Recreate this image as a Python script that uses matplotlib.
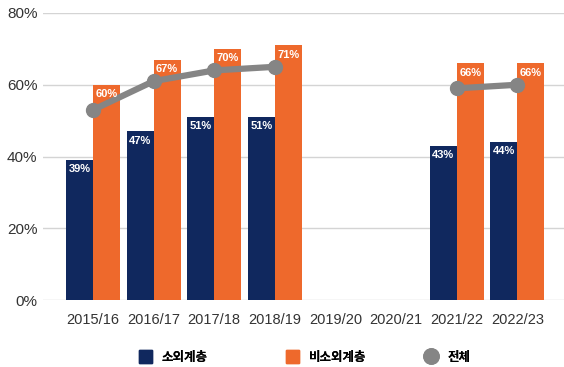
import numpy as np
import matplotlib
matplotlib.use("Agg")
import matplotlib.pyplot as plt
from matplotlib.patches import Patch
from matplotlib.lines import Line2D

plt.rcParams['font.family'] = ['Liberation Sans', 'Noto Sans CJK KR', 'DejaVu Sans']

years = ["2015/16", "2016/17", "2017/18", "2018/19", "2019/20", "2020/21", "2021/22", "2022/23"]
marginal = [39, 47, 51, 51, np.nan, np.nan, 43, 44]        # 소외계층
non_marginal = [60, 67, 70, 71, np.nan, np.nan, 66, 66]    # 비소외계층
overall = [53, 61, 64, 65, np.nan, np.nan, 59, 60]         # 전체

navy = "#10285e"
orange = "#ee692c"
grey = "#858585"

W, H = 564, 367
fig = plt.figure(figsize=(W / 100, H / 100), dpi=100)
ax = fig.add_axes([43 / W, 1 - 300 / H, 1 - 43 / W, (300 - 13) / H])

x = np.arange(len(years))
bw = 0.445

b1 = ax.bar(x - bw / 2, marginal, bw, color=navy, zorder=2)
b2 = ax.bar(x + bw / 2, non_marginal, bw, color=orange, zorder=2)
ax.plot(x, overall, color=grey, lw=4.5, marker="o", ms=10, zorder=3,
        solid_capstyle="round")

for bars, vals in ((b1, marginal), (b2, non_marginal)):
    for rect, v in zip(bars, vals):
        if np.isnan(v):
            continue
        ax.text(rect.get_x() + rect.get_width() / 2, v - 1.2, f"{v:.0f}%",
                ha="center", va="top", color="white", fontsize=8,
                fontweight="bold", zorder=4)

ax.set_xlim(-0.825, 7.77)
ax.set_ylim(0, 80)
ax.set_yticks([0, 20, 40, 60, 80])
ax.set_yticklabels([f"{t}%" for t in [0, 20, 40, 60, 80]])
ax.set_xticks(x)
ax.set_xticklabels(years)
ax.tick_params(axis="both", length=0, colors="#333333")
ax.tick_params(axis="y", pad=4, labelsize=11)
ax.tick_params(axis="x", pad=9, labelsize=10.5)
ax.yaxis.grid(True, color="#d4d4d4", lw=1)
ax.set_axisbelow(True)
for s in ax.spines.values():
    s.set_visible(False)

# legend entries placed one by one
items = [
    (Patch(color=navy), "소외계층", 139),
    (Patch(color=orange), "비소외계층", 286),
    (Line2D([], [], color=grey, marker="o", ls="none", ms=11), "전체", 425),
]
for handle, label, px in items:
    leg = fig.legend([handle], [label], loc="center left",
                     bbox_to_anchor=(px / W, 1 - 357 / H), frameon=False,
                     handlelength=1.0, handleheight=1.2, handletextpad=0.8,
                     borderpad=0, borderaxespad=0,
                     prop={"family": ["Noto Sans CJK KR"], "weight": "bold", "size": 9})
    fig.add_artist(leg)

fig.savefig("out.png", dpi=100)
